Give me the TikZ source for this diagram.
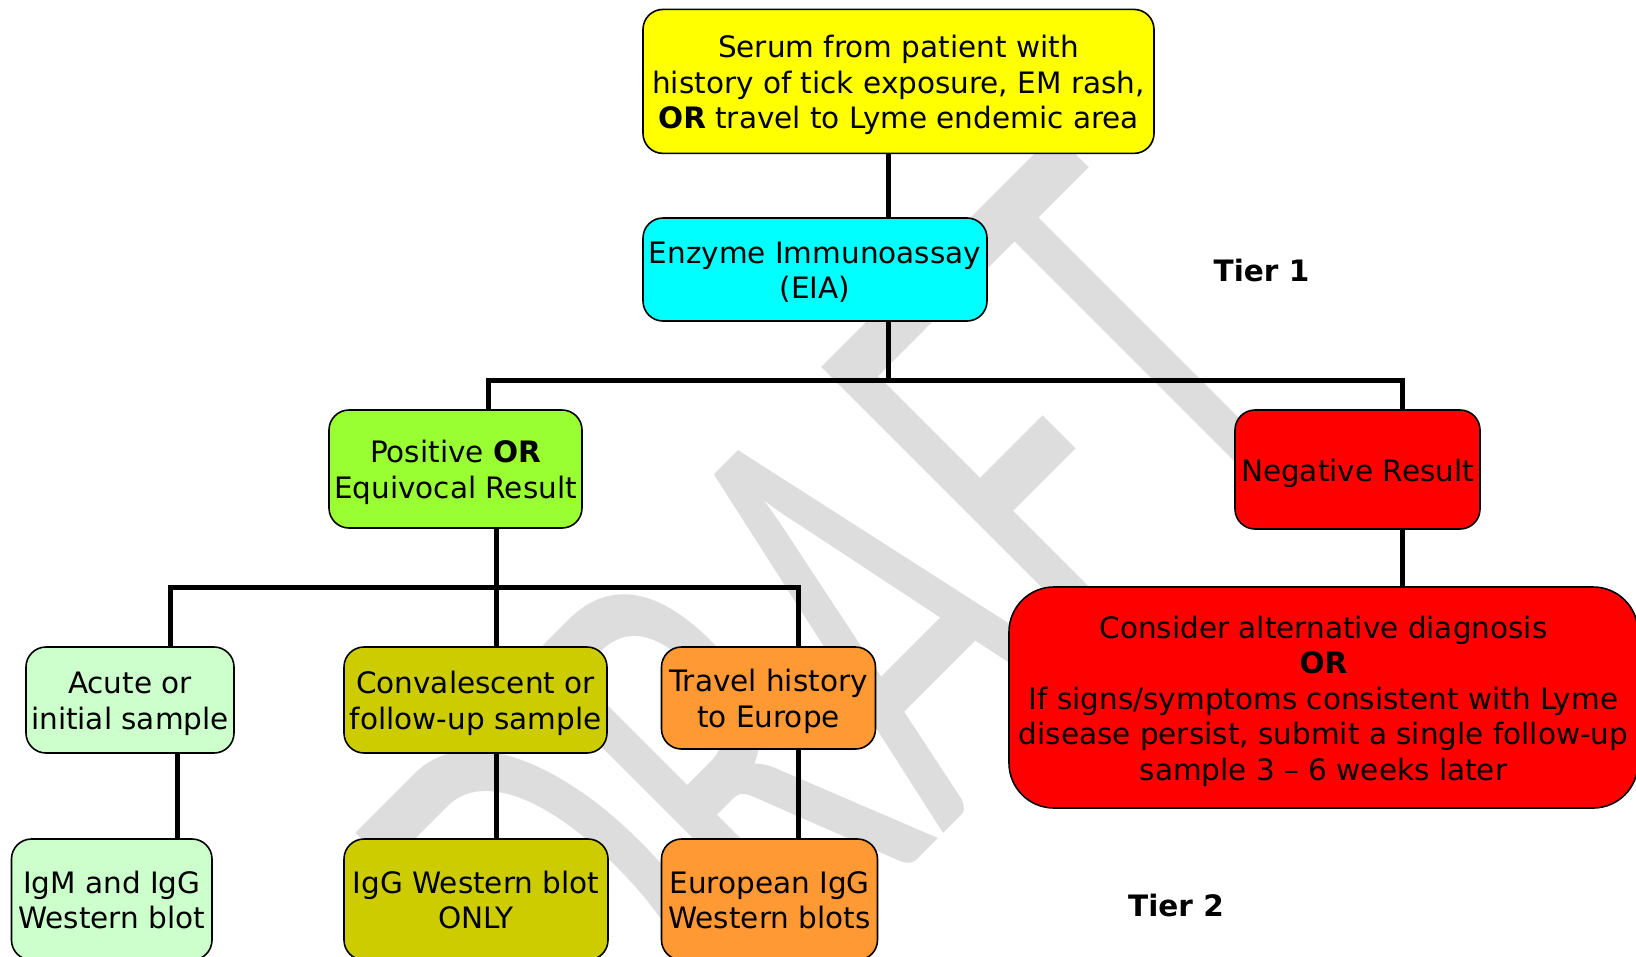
\documentclass[tikz,border=0pt]{standalone}
\usepackage{fontspec}
\setmainfont{DejaVu Sans}
\newfontfamily\wmfont{Carlito}
\definecolor{cyellow}{HTML}{FFFF00}
\definecolor{ccyan}{HTML}{00FFFF}
\definecolor{cgreen}{HTML}{99FF33}
\definecolor{cred}{HTML}{FF0000}
\definecolor{clight}{HTML}{CCFFCC}
\definecolor{colive}{HTML}{CCCC00}
\definecolor{corange}{HTML}{FF9933}
\definecolor{wmgray}{HTML}{DDDDDD}
\newcommand{\bt}[1]{\raisebox{-4.5pt}[\height][\depth]{\begin{tabular}{@{}c@{}}#1\end{tabular}}}
\tikzset{
  box/.style={draw=black, line width=1.6pt, rounded corners=20pt, inner sep=0pt,
    font=\fontsize{29.5}{35.5}\selectfont},
  conn/.style={line width=5pt, draw=black},
  tier/.style={font=\fontsize{29.5}{35.5}\selectfont\bfseries, inner sep=0pt},
  wm/.style={text=wmgray, font=\wmfont\fontsize{648}{648}\selectfont, inner sep=0pt,
    anchor=base west, rotate=45, xscale=0.5864}
}
\begin{document}
\begin{tikzpicture}[x=1pt,y=-1pt]
\useasboundingbox (0,0) rectangle (1636,956);
\clip (0,0) rectangle (1636,956);
\fill[white] (0,0) rectangle (1636,956);
% watermark
\node[wm] (wmark) at (631,1146) {DRAFT};
% boxes
\node[box, fill=cyellow, minimum width=511pt, minimum height=144pt] (serum) at (898.5,81.4)
  {\bt{Serum from patient with\\history of tick exposure, EM rash,\\\textbf{OR} travel to Lyme endemic area}};
\node[box, fill=ccyan, minimum width=344pt, minimum height=103pt] (eia) at (815,269.5)
  {\bt{Enzyme Immunoassay\\(EIA)}};
\node[box, fill=cgreen, minimum width=253pt, minimum height=118pt] (pos) at (455.5,469)
  {\bt{Positive \textbf{OR}\\Equivocal Result}};
\node[box, fill=cred, minimum width=245pt, minimum height=119pt] (neg) at (1357.5,469.5)
  {\bt{Negative Result}};
\node[box, fill=cred, rounded corners=45pt, minimum width=629pt, minimum height=221pt] (cons) at (1323.5,697.5)
  {\bt{Consider alternative diagnosis\\\textbf{OR}\\If signs/symptoms consistent with Lyme\\disease persist, submit a single follow-up\\sample 3 -- 6 weeks later}};
\node[box, fill=clight, minimum width=208pt, minimum height=106pt] (acute) at (130,700)
  {\bt{Acute or\\initial sample}};
\node[box, fill=colive, minimum width=263pt, minimum height=106pt] (conv) at (475.5,700)
  {\bt{Convalescent or\\follow-up sample}};
\node[box, fill=corange, minimum width=214pt, minimum height=102pt] (travel) at (768.5,698)
  {\bt{Travel history\\to Europe}};
\node[box, fill=clight, minimum width=200.5pt, minimum height=121pt] (igm) at (111.75,899.5)
  {\bt{IgM and IgG\\Western blot}};
\node[box, fill=colive, minimum width=264pt, minimum height=121pt] (igg) at (476,899.5)
  {\bt{IgG Western blot\\ONLY}};
\node[box, fill=corange, minimum width=216pt, minimum height=121pt] (euro) at (769.5,899.5)
  {\bt{European IgG\\Western blots}};
\node[tier] (t1) at (1261.5,270) {Tier 1};
\node[tier] (t2) at (1176,905.5) {Tier 2};
% junctions
\coordinate (b1M) at (888,380);
\coordinate (b1L) at (488,380);
\coordinate (b1R) at (1402,380);
\coordinate (b2M) at (496,587);
\coordinate (b2L) at (170,587);
\coordinate (b2R) at (798,587);
\coordinate (l1) at (177,0);
% connectors
\draw[conn] (serum.south -| b1M) -- (eia.north -| b1M);
\draw[conn] (eia.south -| b1M) -- (b1M);
\draw[conn] (pos.north -| b1L) -- (b1L) -- (b1R) -- (neg.north -| b1R);
\draw[conn] (neg.south -| b1R) -- (cons.north -| b1R);
\draw[conn] (pos.south -| b2M) -- (b2M);
\draw[conn] (acute.north -| b2L) -- (b2L) -- (b2R) -- (travel.north -| b2R);
\draw[conn] (b2M) -- (conv.north -| b2M);
\draw[conn] (acute.south -| l1) -- (igm.north -| l1);
\draw[conn] (conv.south -| b2M) -- (igg.north -| b2M);
\draw[conn] (travel.south -| b2R) -- (euro.north -| b2R);
\end{tikzpicture}
\end{document}
